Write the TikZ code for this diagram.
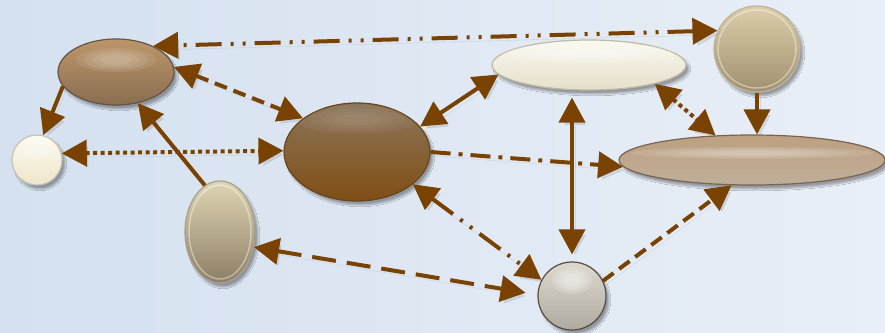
\documentclass[tikz,border=0pt]{standalone}
\usetikzlibrary{arrows.meta,shapes.geometric,shadows.blur}
\definecolor{arr}{RGB}{122,66,0}
\definecolor{bgl}{RGB}{213,225,240}
\definecolor{bgr}{RGB}{233,239,247}
\definecolor{At}{RGB}{188,150,106}
\definecolor{Ab}{RGB}{138,110,80}
\definecolor{Abd}{RGB}{100,85,70}
\definecolor{Bt}{RGB}{253,251,242}
\definecolor{Bb}{RGB}{238,230,202}
\definecolor{Bbd}{RGB}{200,195,175}
\definecolor{Ct}{RGB}{140,118,92}
\definecolor{Cb}{RGB}{128,78,20}
\definecolor{Cbd}{RGB}{105,68,25}
\definecolor{Dt}{RGB}{224,214,180}
\definecolor{Db}{RGB}{140,125,100}
\definecolor{Dbd}{RGB}{170,160,135}
\definecolor{Et}{RGB}{250,248,240}
\definecolor{Eb}{RGB}{230,224,202}
\definecolor{Ebd}{RGB}{190,185,165}
\definecolor{Ft}{RGB}{220,206,170}
\definecolor{Fb}{RGB}{160,144,112}
\definecolor{Fbd}{RGB}{190,180,150}
\definecolor{Gt}{RGB}{188,160,128}
\definecolor{Gm}{RGB}{225,205,180}
\definecolor{Gb}{RGB}{192,174,155}
\definecolor{Gbd}{RGB}{120,100,80}
\definecolor{Ht}{RGB}{222,218,208}
\definecolor{Hb}{RGB}{175,170,160}
\definecolor{Hbd}{RGB}{85,75,62}
\begin{document}
\begin{tikzpicture}[x=1pt,y=-1pt,
  >={Triangle[length=25pt,width=26pt]},
  conn/.style={draw=arr,line width=4pt,line cap=butt,
    preaction={draw=black!70,opacity=0.14,transform canvas={xshift=3pt,yshift=-4pt}}},
  blob/.style={ellipse,inner sep=0pt,line width=1.2pt,
    blur shadow={shadow xshift=3pt,shadow yshift=-4pt,shadow blur steps=8,shadow opacity=35}},
  dashdotdot/.style={dash pattern=on 26pt off 9pt on 3pt off 9pt on 3pt off 9pt},
  dashdotline/.style={dash pattern=on 20pt off 8pt on 4pt off 8pt},
  dotline/.style={dash pattern=on 4pt off 3.5pt},
  shortdash/.style={dash pattern=on 13pt off 7pt},
  longdash/.style={dash pattern=on 24pt off 11pt},
  hl/.style={white,opacity=0.09}]
\useasboundingbox (0,0) rectangle (885,332);
\clip (0,0) rectangle (885,332);
\shade[left color=bgl,right color=bgr] (0,0) rectangle (885,332);

% nodes
\node[blob,draw=Abd,top color=At,bottom color=Ab,minimum width=116pt,minimum height=66pt] (A) at (116,72) {};
\node[blob,draw=Bbd,top color=Bt,bottom color=Bb,minimum width=50pt,minimum height=50pt] (B) at (37,160) {};
\node[blob,draw=Cbd,top color=Ct,bottom color=Cb,minimum width=146pt,minimum height=98pt] (C) at (357,152) {};
\node[blob,draw=Dbd,top color=Dt,bottom color=Db,minimum width=70pt,minimum height=102pt] (D) at (220,232) {};
\node[blob,draw=Ebd,top color=Et,bottom color=Eb,minimum width=194pt,minimum height=50pt] (E) at (589,65) {};
\node[blob,draw=Fbd,top color=Ft,bottom color=Fb,minimum width=86pt,minimum height=86pt] (F) at (757,49) {};
\node[blob,draw=Gbd,top color=Gt,middle color=Gm,bottom color=Gb,minimum width=266pt,minimum height=50pt] (G) at (752,160) {};
\node[blob,draw=Hbd,top color=Ht,bottom color=Hb,minimum width=68pt,minimum height=68pt] (H) at (572,296) {};

% soft highlights
\foreach \s in {1,0.8,0.6,0.4} {
  \fill[hl] (116,60) ellipse ({40*\s pt} and {12*\s pt});
  \fill[white,opacity=0.04] (357,120) ellipse ({60*\s pt} and {14*\s pt});
  \fill[white,opacity=0.13] (589,53) ellipse ({86*\s pt} and {10*\s pt});
  \fill[white,opacity=0.1] (752,153) ellipse ({122*\s pt} and {6*\s pt});
  \fill[white,opacity=0.12] (37,151) ellipse ({16*\s pt} and {10*\s pt});
  \fill[white,opacity=0.16] (572,281) ellipse ({20*\s pt} and {13*\s pt});
}
\draw[white,opacity=0.4,line width=1.5pt] (F) circle (39pt);
\draw[white,opacity=0.4,line width=1.5pt] (D) ellipse (31pt and 47pt);

% connectors
\draw[conn,dashdotdot,<->] (F.155) -- (A.35);
\draw[conn,shortdash,<->] (A.5) -- (C.148);
\draw[conn,->] (A.195) -- (B.76);
\draw[conn,->] (D.108) -- (A.305);
\draw[conn,dotline,<->] (B.15) -- (C.179);
\draw[conn,<->] (C.22) -- (E.186);
\draw[conn,dashdotline,->] (C.east) -- (G.183);
\draw[conn,<->,shorten <=7pt,shorten >=7pt] (H.north |- E.south) -- (H.north);
\draw[conn,dotline,<->] (E.-16) -- (G.146);
\draw[conn,->] (F.south) -- (F.south |- G.north);
\draw[conn,dashdotdot,<->] (C.-30) -- (H.152);
\draw[conn,longdash,<->,shorten >=12pt] (D.-24) -- (H.178);
\draw[conn,shortdash,->] (H.26) -- (G.231);
\end{tikzpicture}
\end{document}
